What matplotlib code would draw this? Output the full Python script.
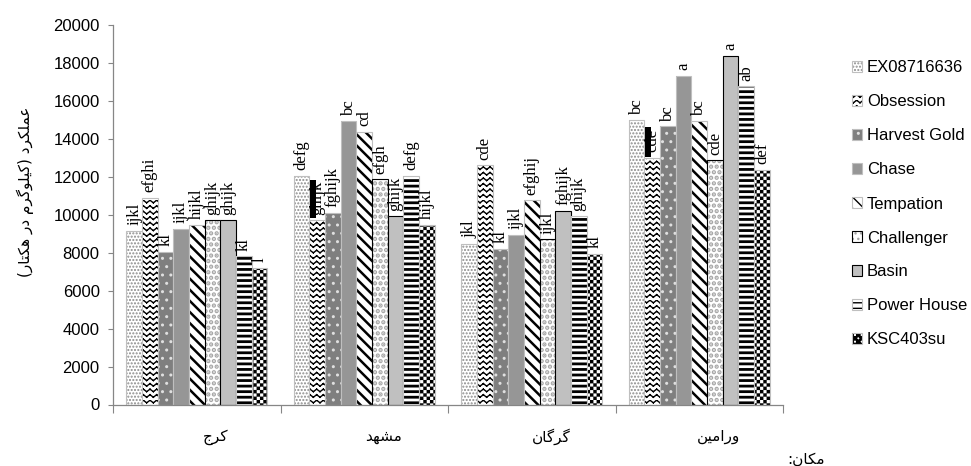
import numpy as np
import matplotlib
matplotlib.use("Agg")
import matplotlib.pyplot as plt
import matplotlib.hatch as mhatch
from matplotlib.path import Path
from matplotlib.patches import Patch
from matplotlib.transforms import blended_transform_factory

# ---------------------------------------------------------------- data
locations = ["کرج", "مشهد", "گرگان", "ورامین"]
cultivars = ["EX08716636", "Obsession", "Harvest Gold", "Chase", "Tempation",
             "Challenger", "Basin", "Power House", "KSC403su"]

# grain yield (kg/ha), one list per location, in cultivar order
yield_karaj = [9150, 10900, 8050, 9250, 9450, 9700, 9700, 7800, 7200]
yield_mashhad = [12050, 9700, 10100, 14950, 14350, 11850, 9900, 12050, 9450]
yield_gorgan = [8450, 12600, 8200, 8950, 10750, 8700, 10200, 9900, 7950]
yield_varamin = [15000, 13000, 14650, 17300, 14950, 12850, 18350, 16750, 12350]

# mean-separation letters, same order
letters_karaj = ["ijkl", "efghi", "kl", "ijkl", "hijkl", "ghijk", "ghijk", "kl", "l"]
letters_mashhad = ["defg", "ghijk", "fghijk", "bc", "cd", "efgh", "ghijk", "defg", "hijkl"]
letters_gorgan = ["jkl", "cde", "kl", "ijkl", "efghij", "ijkl", "fghijk", "ghijk", "kl"]
letters_varamin = ["bc", "cde", "bc", "a", "bc", "cde", "a", "ab", "def"]

# black range marks drawn above the Obsession bar (low, high)
obsession_range_mashhad = (9800, 11800)
obsession_range_varamin = (13050, 14620)

y_ticks = [0, 2000, 4000, 6000, 8000, 10000, 12000, 14000, 16000, 18000, 20000]
y_label = "عملکرد (کیلوگرم در هکتار)"
x_label = "مکان:"

# ---------------------------------------------------------------- Persian shaping
# matplotlib places glyphs one by one, so join the letters with their
# contextual presentation forms and lay them out right to left.
FORMS = {
    "ا": ("\uFE8D", "\uFE8E", None, None),
    "ت": ("\uFE95", "\uFE96", "\uFE97", "\uFE98"),
    "ج": ("\uFE9D", "\uFE9E", "\uFE9F", "\uFEA0"),
    "د": ("\uFEA9", "\uFEAA", None, None),
    "ر": ("\uFEAD", "\uFEAE", None, None),
    "ش": ("\uFEB5", "\uFEB6", "\uFEB7", "\uFEB8"),
    "ع": ("\uFEC9", "\uFECA", "\uFECB", "\uFECC"),
    "ل": ("\uFEDD", "\uFEDE", "\uFEDF", "\uFEE0"),
    "م": ("\uFEE1", "\uFEE2", "\uFEE3", "\uFEE4"),
    "ن": ("\uFEE5", "\uFEE6", "\uFEE7", "\uFEE8"),
    "ه": ("\uFEE9", "\uFEEA", "\uFEEB", "\uFEEC"),
    "و": ("\uFEED", "\uFEEE", None, None),
    "ک": ("\uFB8E", "\uFB8F", "\uFB90", "\uFB91"),
    "گ": ("\uFB92", "\uFB93", "\uFB94", "\uFB95"),
    "ی": ("\uFBFC", "\uFBFD", "\uFBFE", "\uFBFF"),
}
MIRROR = {"(": ")", ")": "("}


def rtl(text):
    out = []
    for i, ch in enumerate(text):
        forms = FORMS.get(ch)
        if forms is None:
            out.append(MIRROR.get(ch, ch))
            continue
        prev = text[i - 1] if i > 0 else ""
        nxt = text[i + 1] if i + 1 < len(text) else ""
        join_prev = prev in FORMS and FORMS[prev][2] is not None
        join_next = forms[2] is not None and nxt in FORMS
        if join_prev and join_next:
            out.append(forms[3])
        elif join_prev:
            out.append(forms[1])
        elif join_next:
            out.append(forms[2])
        else:
            out.append(forms[0])
    return "".join(reversed(out))


# ---------------------------------------------------------------- extra hatch fills
class ChevronHatch(mhatch.HatchPatternBase):
    """Rows of small zigzags, selected with 'v'."""

    def __init__(self, hatch, density):
        self.num_rows = hatch.count("v") * density
        self.num_teeth = self.num_rows * 5 // 6
        self.num_vertices = self.num_rows * self.num_teeth * 4

    def set_vertices_and_codes(self, vertices, codes):
        rows, teeth = self.num_rows, self.num_teeth
        y = (np.arange(rows) + 0.5) / rows
        x0 = np.arange(teeth) / teeth
        Y, X0 = np.meshgrid(y, x0, indexing="ij")
        XM = X0 + 0.5 / teeth
        X1 = X0 + 1.0 / teeth
        amp = 0.45 / rows
        pts = np.stack([np.stack([X0, Y], -1), np.stack([XM, Y + amp], -1),
                        np.stack([XM, Y + amp], -1), np.stack([X1, Y], -1)], axis=2)
        vertices[:] = pts.reshape(-1, 2)
        codes[0::2] = Path.MOVETO
        codes[1::2] = Path.LINETO


class CheckerHatch(mhatch.HatchPatternBase):
    """Checkerboard of filled squares, selected with '#'."""

    def __init__(self, hatch, density):
        self.num_cells = hatch.count("#") * density
        self.num_vertices = (self.num_cells ** 2 // 2) * 5

    def set_vertices_and_codes(self, vertices, codes):
        n = self.num_cells
        s = 1.0 / n
        i, j = np.meshgrid(np.arange(n), np.arange(n), indexing="ij")
        mask = (i + j) % 2 == 0
        origin = np.stack([i[mask] * s, j[mask] * s], -1)
        corners = np.array([[0, 0], [1, 0], [1, 1], [0, 1], [0, 0]]) * s
        vertices[:] = (origin[:, None, :] + corners[None]).reshape(-1, 2)
        c = np.full((len(origin), 5), Path.LINETO, dtype=Path.code_type)
        c[:, 0] = Path.MOVETO
        c[:, 4] = Path.CLOSEPOLY
        codes[:] = c.ravel()


mhatch._hatch_types.extend([ChevronHatch, CheckerHatch])
mhatch._validate_hatch_pattern = lambda hatch: None

# ---------------------------------------------------------------- styles
LIGHT_EDGE = "#bfbfbf"
styles = [
    dict(face="white", hatch=".....", hcolor="#8c8c8c", hlw=1.0, edge=LIGHT_EDGE),
    dict(face="white", hatch="vvv", hcolor="black", hlw=1.0, edge=LIGHT_EDGE),
    dict(face="#7f7f7f", hatch="..", hcolor="#e0e0e0", hlw=1.0, edge=LIGHT_EDGE),
    dict(face="#969696", hatch=None, hcolor="#969696", hlw=1.0, edge=LIGHT_EDGE),
    dict(face="white", hatch="\\\\\\", hcolor="black", hlw=1.8, edge=LIGHT_EDGE),
    dict(face="white", hatch="...", hcolor="#a6a6a6", hlw=2.2, edge="black"),
    dict(face="#c0c0c0", hatch=None, hcolor="#c0c0c0", hlw=1.0, edge="black"),
    dict(face="white", hatch="---", hcolor="black", hlw=2.0, edge=LIGHT_EDGE),
    dict(face="white", hatch="#####", hcolor="black", hlw=0.1, edge=LIGHT_EDGE),
]

AXIS_GRAY = "#868686"
SANS = ["Liberation Sans", "DejaVu Sans"]
SERIF = ["Liberation Serif", "DejaVu Serif"]
ARABIC = ["DejaVu Sans"]

# ---------------------------------------------------------------- figure
fig = plt.figure(figsize=(9.71, 4.66), dpi=100)
ax = fig.add_axes([113 / 971, 1 - 404.5 / 466, 670 / 971, 379.8 / 466])

yields = np.array([yield_karaj, yield_mashhad, yield_gorgan, yield_varamin], dtype=float)
letters = [letters_karaj, letters_mashhad, letters_gorgan, letters_varamin]
n_cult = len(cultivars)
bar_w = 0.0935
x = np.arange(len(locations))
offsets = (np.arange(n_cult) - (n_cult - 1) / 2) * bar_w


def set_hlw(patch, lw):
    if hasattr(patch, "set_hatch_linewidth"):
        patch.set_hatch_linewidth(lw)


handles = []
for j, name in enumerate(cultivars):
    st = styles[j]
    xpos = x + offsets[j]
    with plt.rc_context({"hatch.linewidth": st["hlw"]}):
        filled = ax.bar(xpos, yields[:, j], bar_w, color=st["face"], hatch=st["hatch"],
                        edgecolor=st["hcolor"], linewidth=0)
        for p in filled:
            set_hlw(p, st["hlw"])
        ax.bar(xpos, yields[:, j], bar_w, fill=False, edgecolor=st["edge"], linewidth=0.8)
        h_fill = Patch(facecolor=st["face"], hatch=st["hatch"], edgecolor=st["hcolor"], linewidth=0)
        set_hlw(h_fill, st["hlw"])
        h_edge = Patch(fill=False, edgecolor=st["edge"], linewidth=0.8)
    handles.append((h_fill, h_edge))

# black range marks above Obsession
obs = cultivars.index("Obsession")
for loc_name, (lo, hi) in [("مشهد", obsession_range_mashhad), ("ورامین", obsession_range_varamin)]:
    xi = locations.index(loc_name) + offsets[obs] - bar_w / 2 + 0.05 * bar_w
    ax.bar(xi, hi - lo, bar_w * 0.38, bottom=lo, align="edge", color="black", linewidth=0)

# letters above bars
for i in range(len(locations)):
    for j in range(n_cult):
        ax.annotate(letters[i][j], (x[i] + offsets[j], yields[i, j]),
                    xytext=(0, 4), textcoords="offset points", rotation=90,
                    ha="center", va="bottom", fontsize=12, family=SERIF)

# axes styling
ax.set_xlim(-0.5, len(locations) - 0.5)
ax.set_ylim(0, 20000)
ax.set_yticks(y_ticks)
ax.set_yticklabels([str(v) for v in y_ticks], family=SANS, fontsize=12)
ax.set_xticks(np.arange(len(locations) + 1) - 0.5)
ax.set_xticklabels([])
ax.tick_params(axis="y", direction="out", length=3.6, width=0.8, color=AXIS_GRAY, pad=6)
ax.tick_params(axis="x", direction="out", length=5.5, width=0.8, color=AXIS_GRAY)
for side in ("top", "right"):
    ax.spines[side].set_visible(False)
for side in ("left", "bottom"):
    ax.spines[side].set_color(AXIS_GRAY)
    ax.spines[side].set_linewidth(0.9)

# category names
trans = blended_transform_factory(ax.transData, ax.transAxes)
for i, name in enumerate(locations):
    ax.text(x[i] + 0.115, -0.085, rtl(name), transform=trans, ha="center", va="center",
            fontsize=11, family=ARABIC)

ax.set_ylabel(rtl(y_label), family=ARABIC, fontsize=11)
ax.yaxis.set_label_coords(-0.118, 0.56)
fig.text(806 / 971, 1 - 459 / 466, rtl(x_label), ha="center", va="center",
         fontsize=11, family=ARABIC)

leg = fig.legend(handles, cultivars, loc="center left",
                 bbox_to_anchor=(852 / 971, 1 - 204 / 466), frameon=False,
                 prop={"family": SANS, "size": 12}, handlelength=0.6, handleheight=0.6,
                 handletextpad=0.3, labelspacing=1.14, borderpad=0, borderaxespad=0)

fig.savefig("out.png", dpi=100)
